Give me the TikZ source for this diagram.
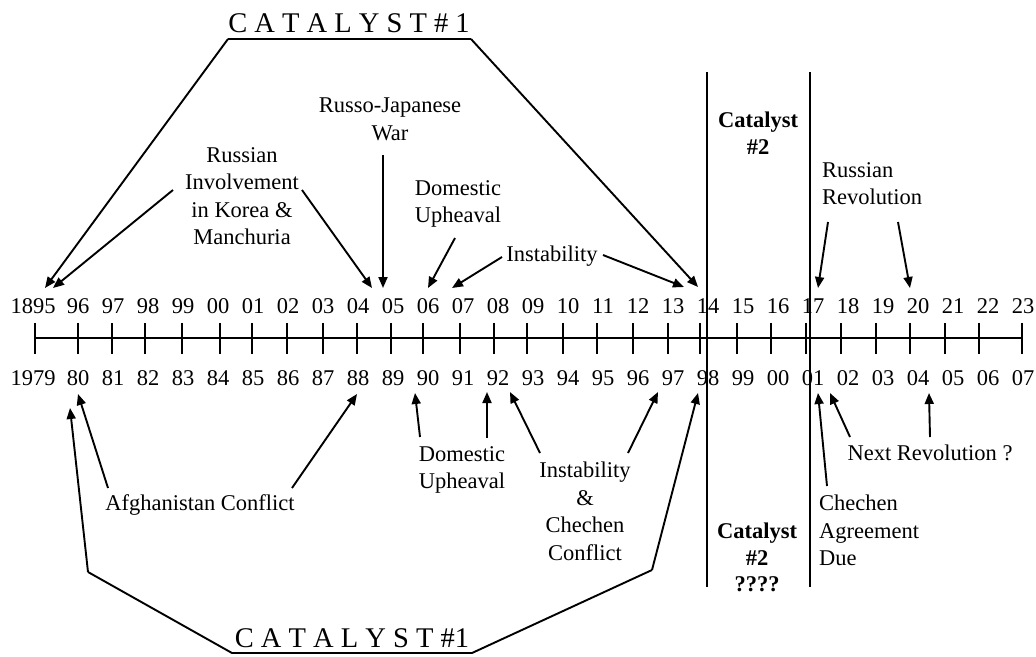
\documentclass[tikz,border=0pt]{standalone}
\usepackage{fontspec}
\setmainfont{Liberation Serif}
\usetikzlibrary{arrows.meta}
\begin{document}
\begin{tikzpicture}[x=1pt,y=-1pt,
 txt/.style={inner sep=0pt, font=\fontsize{22.5}{27.5}\selectfont, align=center},
 btxt/.style={inner sep=0pt, font=\fontsize{22.5}{26.5}\selectfont\bfseries, align=center},
 yr/.style={inner sep=0pt, font=\fontsize{22.5}{27}\selectfont, anchor=base},
 big/.style={inner sep=0pt, font=\fontsize{28.5}{30}\selectfont, anchor=base},
 arr/.style={line width=1.9pt, -{Triangle[length=11pt,width=9pt]}},
 leg/.style={line width=1.9pt, line join=miter},
 axisline/.style={line width=1.6pt},
 sepline/.style={line width=1.7pt}]
\useasboundingbox (0,0) rectangle (1036,656);

% axis and ticks
\draw[axisline] (35,338) -- (1022,338);
\foreach \x in {35,78,112,145,182,220,252,287,323,357,391,423,460,494,527,563,597,633,668,700,737,771,806,841,876,910,945,979,1022}
  \draw[axisline] (\x,323) -- (\x,354);

% year labels
\node[yr] (t1895) at (33,313) {1895};
\foreach \lab [count=\i from 0] in {96,97,98,99,00,01,02,03,04,05,06,07,08,09,10,11,12,13,14,15,16,17,18,19,20,21,22,23}
  \node[yr] (t\lab) at ({78+35*\i},313) {\lab};
\node[yr] (b1979) at (33,385) {1979};
\foreach \lab [count=\i from 0] in {80,81,82,83,84,85,86,87,88,89,90,91,92,93,94,95,96,97,98,99,00,01,02,03,04,05,06,07}
  \node[yr] (b\lab) at ({78+35*\i},385) {\lab};

% separator lines
\coordinate (s1t) at (707,72); \coordinate (s1b) at (707,587);
\coordinate (s2t) at (810,72); \coordinate (s2b) at (810,587);
\draw[sepline] (s1t) -- (s1b);
\draw[sepline] (s2t) -- (s2b);

% top texts
\node[big] (cat1top) at (349,32) {C A T A L Y S T \# 1};
\node[txt, anchor=north] (rik) at (242,147) {Russian\\Involvement\\in Korea \&\\Manchuria};
\node[txt, anchor=north] (rjw) at (390,98) {Russo-Japanese\\War};
\node[txt, anchor=north] (duT) at (458,180) {Domestic\\Upheaval};
\node[txt, anchor=north] (insT) at (552,246) {Instability};
\node[btxt, anchor=north] (cat2T) at (758,112) {Catalyst\\\#2};
\node[txt, anchor=north west, align=left] (rr) at (822,162) {Russian\\Revolution};

% bottom texts
\node[big] (cat1bot) at (352,647) {C A T A L Y S T \#1};
\node[txt, anchor=north] (afg) at (200,494) {Afghanistan Conflict};
\node[txt, anchor=north] (duB) at (462,446) {Domestic\\Upheaval};
\node[txt, anchor=north] (icc) at (585,462) {Instability\\\&\\Chechen\\Conflict};
\node[btxt, anchor=north] (cat2B) at (757,523) {Catalyst\\\#2\\????};
\node[txt, anchor=north west, align=left] (cad) at (819,495) {Chechen\\Agreement\\Due};
\node[txt, anchor=north] (nr) at (930,445) {Next Revolution ?};

% top connectors
\coordinate (tl) at (228,39); \coordinate (tr) at (471,39);
\coordinate (a95a) at (45,288); \coordinate (a95b) at (53,288);
\coordinate (a14b) at (698,287);
\draw[leg] (tl) -- (tr);
\draw[arr] (tl) -- (a95a);
\draw[arr] (tr) -- (a14b);
\coordinate (rikL) at (173,190); \coordinate (rikR) at (302,190);
\draw[arr] (rikL) -- (a95b);
\draw[arr] (rikR) -- (372,288) coordinate (a04);
\coordinate (rjwS) at (383,155);
\draw[arr] (rjwS) -- (383,288) coordinate (a05);
\coordinate (duTS) at (455,238);
\draw[arr] (duTS) -- (428,288) coordinate (a06);
\coordinate (insL) at (502,257); \coordinate (insR) at (603,255);
\draw[arr] (insL) -- (452,288) coordinate (a07);
\draw[arr] (insR) -- (684,287) coordinate (a13);
\coordinate (rrL) at (828,222); \coordinate (rrR) at (898,222);
\draw[arr] (rrL) -- (818,288) coordinate (a17);
\draw[arr] (rrR) -- (910,288) coordinate (a20);

% bottom connectors
\coordinate (bl) at (88,572); \coordinate (bbl) at (232,653);
\coordinate (bbr) at (472,653); \coordinate (br) at (652,570);
\draw[leg] (bl) -- (bbl) -- (bbr) -- (br);
\draw[arr] (bl) -- (70,408) coordinate (a80a);
\draw[arr] (br) -- (698,393) coordinate (a98);
\coordinate (afgL) at (108,488); \coordinate (afgR) at (292,488);
\draw[arr] (afgL) -- (78,394) coordinate (a80b);
\draw[arr] (afgR) -- (357,394) coordinate (a88);
\coordinate (duBL) at (420,437); \coordinate (duBR) at (487,438);
\draw[arr] (duBL) -- (415,393) coordinate (a89);
\draw[arr] (duBR) -- (487,392) coordinate (a91);
\coordinate (iccL) at (540,453); \coordinate (iccR) at (628,453);
\draw[arr] (iccL) -- (510,392) coordinate (a92);
\draw[arr] (iccR) -- (658,392) coordinate (a97);
\coordinate (cadS) at (827,486);
\draw[arr] (cadS) -- (818,393) coordinate (a01a);
\coordinate (nrL) at (850,437); \coordinate (nrR) at (930,437);
\draw[arr] (nrL) -- (830,393) coordinate (a01b);
\draw[arr] (nrR) -- (929,393) coordinate (a04b);
\end{tikzpicture}
\end{document}
